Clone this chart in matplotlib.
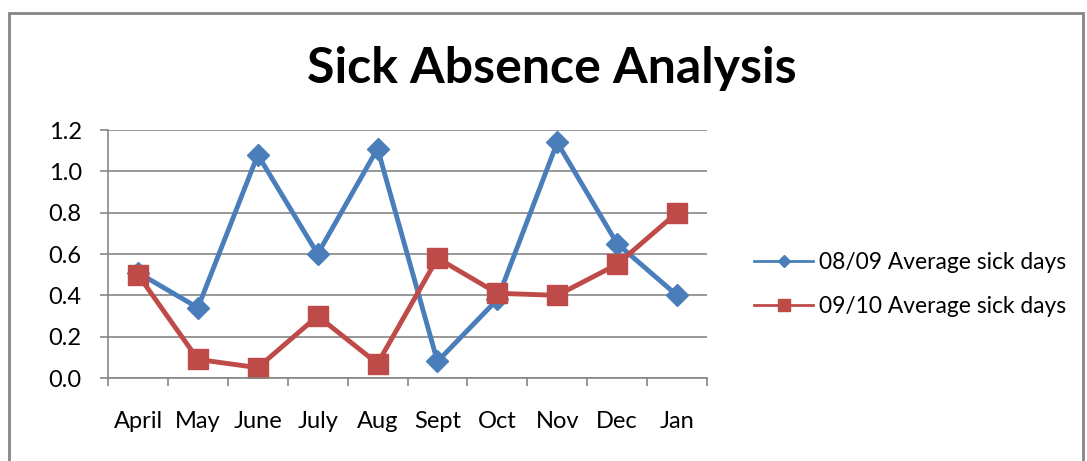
import numpy as np
import matplotlib.pyplot as plt
from matplotlib.patches import Rectangle

months = ['April', 'May', 'June', 'July', 'Aug', 'Sept', 'Oct', 'Nov', 'Dec', 'Jan']
avg_0809 = [0.51, 0.34, 1.08, 0.60, 1.11, 0.08, 0.38, 1.14, 0.65, 0.40]
avg_0910 = [0.50, 0.09, 0.05, 0.30, 0.07, 0.58, 0.41, 0.40, 0.55, 0.80]
labels = ['08/09 Average sick days', '09/10 Average sick days']

plt.rcParams['font.family'] = ['Lato', 'DejaVu Sans']

fig = plt.figure(figsize=(10.87, 4.61), dpi=100)
ax = fig.add_axes([0.0994, 0.180, 0.5510, 0.538])

# outer chart border
W, H = 1087, 461
fig.patches.append(Rectangle((9 / W, -0.02), (1083 - 9) / W, 1 - 13 / H + 0.02,
                             transform=fig.transFigure, fill=False,
                             edgecolor='#868686', linewidth=2))

x = np.arange(len(months))
ax.plot(x, avg_0809, color='#4A7EBB', lw=3.5, marker='D', ms=11, label=labels[0])
ax.plot(x, avg_0910, color='#BE4B48', lw=3.5, marker='s', ms=15, label=labels[1])

ax.set_xlim(-0.5, len(months) - 0.5)
ax.set_ylim(0, 1.2)
ax.set_yticks(np.arange(0, 1.21, 0.2))
ax.set_yticklabels([f'{v:.1f}' for v in np.arange(0, 1.21, 0.2)])
ax.set_xticks(x)
ax.set_xticklabels(months)
ax.set_xticks(np.arange(-0.5, len(months), 1), minor=True)
ax.tick_params(axis='x', which='major', length=0, pad=24, labelsize=17)
ax.tick_params(axis='x', which='minor', length=6, color='#868686', width=1.2)
ax.tick_params(axis='y', length=6, color='#868686', width=1.2, labelsize=17, pad=13)

ax.grid(axis='y', color='#868686', lw=1.2)
ax.set_axisbelow(True)
for s in ['top', 'right']:
    ax.spines[s].set_visible(False)
for s in ['left', 'bottom']:
    ax.spines[s].set_color('#868686')
    ax.spines[s].set_linewidth(1.2)

fig.text(0.508, 0.852, 'Sick Absence Analysis', ha='center', va='center',
         fontsize=36, fontweight='bold')

leg = fig.legend(loc='center left', bbox_to_anchor=(0.675, 0.383), frameon=False,
                 fontsize=16.4, handlelength=2.6, labelspacing=1.0, handletextpad=0.26,
                 markerscale=0.55)
for h in leg.legend_handles:
    h.set_linewidth(2)

fig.savefig('out.png', dpi=100)
